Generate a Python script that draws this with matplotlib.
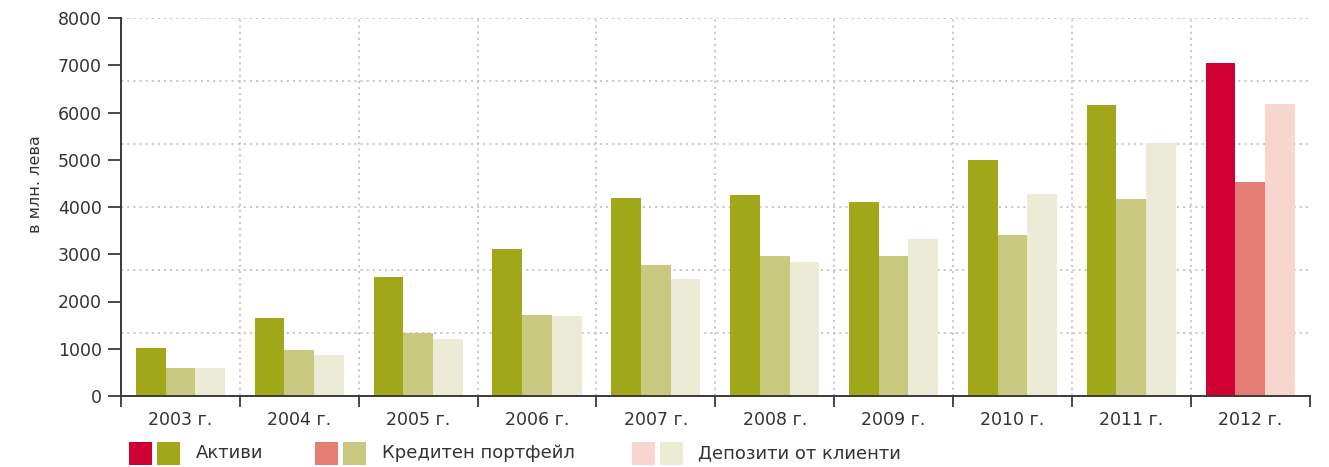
import matplotlib
matplotlib.use("Agg")
import matplotlib.pyplot as plt
from matplotlib.patches import Rectangle
import numpy as np

plt.rcParams['font.family'] = ['DejaVu Sans']

years = ["2003 г.", "2004 г.", "2005 г.", "2006 г.", "2007 г.",
         "2008 г.", "2009 г.", "2010 г.", "2011 г.", "2012 г."]
assets = [1020, 1650, 2510, 3120, 4180, 4250, 4100, 4990, 6150, 7040]
loans = [595, 975, 1325, 1705, 2765, 2960, 2960, 3400, 4160, 4520]
deposits = [595, 870, 1200, 1685, 2470, 2830, 3315, 4270, 5365, 6170]
yticks = [0, 1000, 2000, 3000, 4000, 5000, 6000, 7000, 8000]
series_names = ["Активи", "Кредитен портфейл", "Депозити от клиенти"]
ylabel = "в млн. лева"

old_colors = ["#A0A719", "#C8C87E", "#ECECD6"]
new_colors = ["#D00034", "#E47D74", "#F7D6D0"]
text_color = "#333333"
axis_color = "#3a3a3a"
grid_color = "#c4c4c4"

W, H = 1329, 467
fig = plt.figure(figsize=(W / 100, H / 100), dpi=100)
ax = fig.add_axes([121 / W, 1 - 396 / H, (1309.5 - 121) / W, (396 - 18) / H])

x = np.arange(len(years))
bw = 0.25
data = [assets, loans, deposits]
for i, vals in enumerate(data):
    cols = [new_colors[i] if j == len(years) - 1 else old_colors[i] for j in range(len(years))]
    ax.bar(x + (i - 1) * bw, vals, width=bw, color=cols, linewidth=0, zorder=3)

ax.set_xlim(-0.5, len(years) - 0.5)
ax.set_ylim(0, 8000)

# grid
for k in range(1, 7):
    ax.axhline(8000 * k / 6, color=grid_color, linestyle=(0, (1.2, 2.2)), linewidth=1.3, zorder=1)
for b in np.arange(0.5, len(years) - 1, 1.0):
    ax.axvline(b, color=grid_color, linestyle=(0, (1.2, 2.2)), linewidth=1.3, zorder=1)

for s in ["top", "right"]:
    ax.spines[s].set_visible(False)
for s in ["left", "bottom"]:
    ax.spines[s].set_color(axis_color)
    ax.spines[s].set_linewidth(1.4)
    ax.spines[s].set_zorder(4)

ax.set_yticks(yticks)
ax.set_yticklabels([str(v) for v in yticks])
ax.tick_params(axis='y', length=9.5, width=1.3, color=axis_color, labelcolor=text_color,
               labelsize=12.5, pad=4.3)

ax.set_xticks(x)
ax.set_xticklabels(years)
ax.set_xticks(np.arange(-0.5, len(years), 1.0), minor=True)
ax.tick_params(axis='x', which='major', length=0, labelcolor=text_color, labelsize=12.5, pad=11)
ax.tick_params(axis='x', which='minor', length=8, width=1.3, color=axis_color)

ax.set_ylabel(ylabel, fontsize=11.5, color=text_color)
ax.yaxis.set_label_coords(-0.066, 0.56)

# legend (manual)
legend_x = [(129, 157, 196), (315, 343, 382), (632, 660, 698)]
for i, (x1, x2, tx) in enumerate(legend_x):
    for xx, c in ((x1, new_colors[i]), (x2, old_colors[i])):
        fig.add_artist(Rectangle((xx / W, 1 - 465 / H), 23 / W, 23 / H,
                                 transform=fig.transFigure, color=c, linewidth=0))
    fig.text(tx / W, 1 - 453.5 / H, series_names[i], fontsize=13, color=text_color,
             va='center', ha='left')

fig.savefig("out.png", dpi=100)
